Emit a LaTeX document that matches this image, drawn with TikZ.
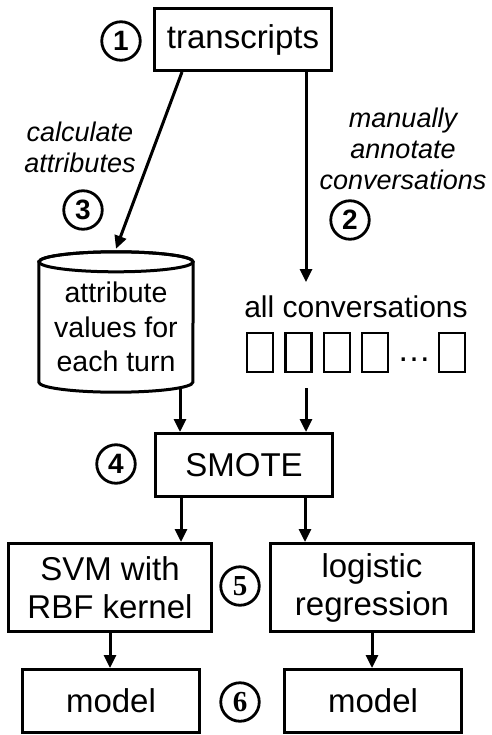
\documentclass[tikz,border=0pt]{standalone}
\usepackage{fontspec}
\setmainfont{Liberation Sans}
\newfontfamily\numserif{Liberation Serif}
\usetikzlibrary{arrows.meta,calc}

\tikzset{
  box/.style={draw, line width=3pt, inner sep=0pt, align=center,
    font=\fontsize{33}{38}\selectfont},
  stepnum/.style={circle, draw, line width=2.8pt, minimum size=38.5pt,
    inner sep=0pt, font=\fontsize{28}{28}\selectfont\bfseries},
  arr/.style={line width=3pt, -{Triangle[length=13pt,width=12pt]}},
  convbox/.style={draw, line width=2.4pt, minimum width=26pt,
    minimum height=39pt, inner sep=0pt},
  note/.style={align=center, inner sep=0pt,
    font=\fontsize{27}{31}\selectfont\itshape},
  cylline/.style={line width=3pt},
}

\begin{document}
\begin{tikzpicture}[x=1pt, y=-1pt]
\useasboundingbox (0,0) rectangle (491,735);

% processing boxes
\node[box, minimum width=177pt, minimum height=62pt] (trans) at (243,39.5) {transcripts};
\node[box, minimum width=177pt, minimum height=63pt] (smote) at (244,465) {SMOTE};
\node[box, minimum width=203pt, minimum height=88pt]
  (svm) at (110,587.5) {SVM with\\RBF kernel};
\node[box, minimum width=203pt, minimum height=88pt]
  (logreg) at (372,587.5) {logistic\\regression};
\node[box, minimum width=177pt, minimum height=63pt] (model1) at (111,701) {model};
\node[box, minimum width=177pt, minimum height=63pt] (model2) at (373,701) {model};

% attribute store (cylinder)
\node[minimum width=154pt, minimum height=130pt, inner sep=0pt, align=center,
  font=\fontsize{28.5}{34.5}\selectfont] (attr) at (116,327)
  {attribute\\values for\\each turn};
\draw[cylline] (attr.north west)
  -- ($(attr.south west)+(0,-10)$)
  arc[start angle=180, end angle=360, x radius=77pt, y radius=10pt]
  -- (attr.north east)
  arc[start angle=0, end angle=180, x radius=77pt, y radius=10pt] -- cycle;
\draw[cylline] (attr.north) ellipse[x radius=77pt, y radius=10pt];

% annotated conversations
\node[anchor=base, inner sep=0pt, font=\fontsize{30}{34}\selectfont]
  (allconv) at (356,317) {all conversations};
\node[convbox] (c1) at (260,352.5) {};
\node[convbox] (c2) at (298.5,352.5) {};
\node[convbox] (c3) at (337,352.5) {};
\node[convbox] (c4) at (375,352.5) {};
\node[anchor=base, inner sep=0pt, font=\fontsize{34}{34}\selectfont]
  (cdots) at (414,361) {…};
\node[convbox] (c5) at (452,352.5) {};

% step numbers
\node[stepnum] (n1) at (121,41) {1};
\node[stepnum] (n2) at (350,220) {2};
\node[stepnum] (n3) at (83,210) {3};
\node[stepnum] (n4) at (116,464) {4};
\node[stepnum, font=\fontsize{29}{29}\selectfont\numserif\bfseries] (n5) at (240,586) {5};
\node[stepnum, font=\fontsize{29}{29}\selectfont\numserif\bfseries] (n6) at (240,702) {6};

% edge annotations
\node[note] (calc) at (80,147) {calculate\\attributes};
\node[note] (manual) at (403,149) {manually\\annotate\\conversations};

% connectors
\draw[arr] ($(trans.south west)+(29,0)$) -- ($(attr.north)+(0,-13)$);
\draw[arr] ($(trans.south east)+(-27,0)$) -- ($(trans.south east |- allconv.north)+(-27,-13)$);

\path ($(attr.south)+(64,-4)$) coordinate (cylout);
\draw[arr] (cylout) -- (cylout |- smote.north);
\path ($(trans.south east |- c2.south)+(-27,15)$) coordinate (convout);
\draw[arr] (convout) -- (convout |- smote.north);

\draw[arr] ($(smote.south west)+(27,0)$) -- ($(smote.south west |- svm.north)+(27,0)$);
\draw[arr] ($(smote.south east)+(-29,0)$) -- ($(smote.south east |- logreg.north)+(-29,0)$);

\draw[arr] (svm.south) -- (svm.south |- model1.north);
\draw[arr] (logreg.south) -- (logreg.south |- model2.north);
\end{tikzpicture}
\end{document}
